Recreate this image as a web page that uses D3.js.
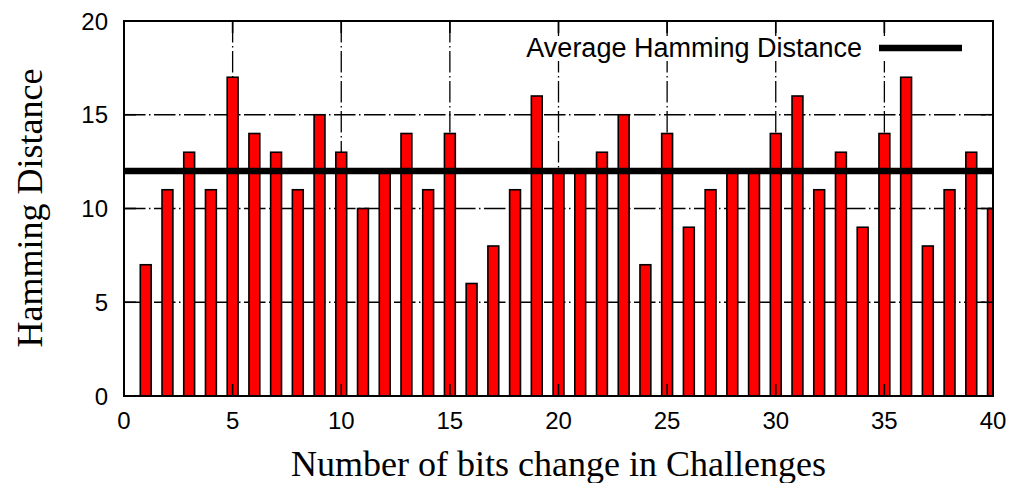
<!DOCTYPE html>
<html lang="en">
<head>
<meta charset="UTF-8">
<title>Hamming Distance</title>
<style>
  * { margin: 0; padding: 0; }
  body { background: #fff; width: 1014px; height: 483px; overflow: hidden; }
  svg { display: block; }
  .tick-label { font-family: 'Liberation Sans', Arial, sans-serif; font-size: 24px; fill: #000; }
  .axis-title { font-family: 'Liberation Serif', 'Times New Roman', serif; font-size: 36px; fill: #000; }
  .legend-text { font-family: 'Liberation Sans', Arial, sans-serif; font-size: 27px; fill: #000; }
</style>
</head>
<body>
<svg width="1014" height="483"></svg>
<script src="https://d3js.org/d3.v7.min.js"></script>
<script>
// bits changed in the challenge, 1..40
const bits = d3.range(1, 41);
const hamming = [7, 11, 13, 11, 17, 14, 13, 11, 15, 13,
                 10, 12, 14, 11, 14, 6, 8, 11, 16, 12,
                 12, 13, 15, 7, 14, 9, 11, 12, 12, 14,
                 16, 11, 13, 9, 14, 17, 8, 11, 13, 10];
const average = 12;
const xTicks = [0, 5, 10, 15, 20, 25, 30, 35, 40];
const yTicks = [0, 5, 10, 15, 20];
const legendLabel = 'Average Hamming Distance';

const margin = { left: 124, top: 21, right: 21, bottom: 87 };
const width = 1014 - margin.left - margin.right;
const height = 483 - margin.top - margin.bottom;

const x = d3.scaleLinear().domain([0, 40]).range([0, width]);
const y = d3.scaleLinear().domain([0, 20]).range([height, 0]);
const barW = x(0.5) - x(0);

const svg = d3.select('svg');
svg.append('defs').append('clipPath').attr('id', 'plot')
  .append('rect').attr('width', width).attr('height', height);

const g = svg.append('g').attr('transform', `translate(${margin.left},${margin.top})`);

// dash-dot grid
const dash = '21.5,3.5,1.5,3.5';
g.append('g').selectAll('line').data(xTicks.slice(1, -1)).join('line')
  .attr('x1', d => x(d)).attr('x2', d => x(d))
  .attr('y1', 0).attr('y2', height)
  .attr('stroke', '#000').attr('stroke-width', 1.3).attr('stroke-dasharray', dash);
g.append('g').selectAll('line').data(yTicks.slice(1, -1)).join('line')
  .attr('y1', d => y(d)).attr('y2', d => y(d))
  .attr('x1', 0).attr('x2', width)
  .attr('stroke', '#000').attr('stroke-width', 1.3).attr('stroke-dasharray', dash);

// legend box is opaque
g.append('rect')
  .attr('x', 386).attr('y', 15).attr('width', 466).attr('height', 25)
  .attr('fill', '#fff');

// bars
g.append('g').attr('clip-path', 'url(#plot)')
  .selectAll('rect').data(bits).join('rect')
  .attr('x', (d) => x(d) - barW / 2)
  .attr('y', (d, i) => y(hamming[i]))
  .attr('width', barW)
  .attr('height', (d, i) => y(0) - y(hamming[i]))
  .attr('fill', '#ff0000')
  .attr('stroke', '#000').attr('stroke-width', 1.6);

// average line
g.append('line')
  .attr('x1', 0).attr('x2', width)
  .attr('y1', y(average)).attr('y2', y(average))
  .attr('stroke', '#000').attr('stroke-width', 6.5);

// ticks on all four sides
const tl = 12;
g.append('g').selectAll('line').data(xTicks).join('line')
  .attr('x1', d => x(d)).attr('x2', d => x(d))
  .attr('y1', height).attr('y2', height - tl)
  .attr('stroke', '#000').attr('stroke-width', 1.6);
g.append('g').selectAll('line').data(xTicks).join('line')
  .attr('x1', d => x(d)).attr('x2', d => x(d))
  .attr('y1', 0).attr('y2', tl)
  .attr('stroke', '#000').attr('stroke-width', 1.6);
g.append('g').selectAll('line').data(yTicks).join('line')
  .attr('y1', d => y(d)).attr('y2', d => y(d))
  .attr('x1', 0).attr('x2', tl)
  .attr('stroke', '#000').attr('stroke-width', 1.6);
g.append('g').selectAll('line').data(yTicks).join('line')
  .attr('y1', d => y(d)).attr('y2', d => y(d))
  .attr('x1', width).attr('x2', width - tl)
  .attr('stroke', '#000').attr('stroke-width', 1.6);

// border
g.append('rect').attr('width', width).attr('height', height)
  .attr('fill', 'none').attr('stroke', '#000').attr('stroke-width', 2);

// tick labels
g.append('g').selectAll('text').data(xTicks).join('text')
  .attr('class', 'tick-label')
  .attr('x', d => x(d)).attr('y', height + 33)
  .attr('text-anchor', 'middle')
  .text(d => d);
g.append('g').selectAll('text').data(yTicks).join('text')
  .attr('class', 'tick-label')
  .attr('x', -16).attr('y', d => y(d) + 8.5)
  .attr('text-anchor', 'end')
  .text(d => d);

// legend
g.append('text').attr('class', 'legend-text')
  .attr('x', 738).attr('y', 36)
  .attr('text-anchor', 'end')
  .text(legendLabel);
g.append('line')
  .attr('x1', 755).attr('x2', 838)
  .attr('y1', 27).attr('y2', 27)
  .attr('stroke', '#000').attr('stroke-width', 6.5);

// axis titles
svg.append('text').attr('class', 'axis-title')
  .attr('x', margin.left + width / 2).attr('y', 476)
  .attr('text-anchor', 'middle')
  .text('Number of bits change in Challenges');
svg.append('text').attr('class', 'axis-title')
  .attr('transform', 'translate(42,208) rotate(-90)')
  .attr('text-anchor', 'middle')
  .text('Hamming Distance');
</script>
</body>
</html>
